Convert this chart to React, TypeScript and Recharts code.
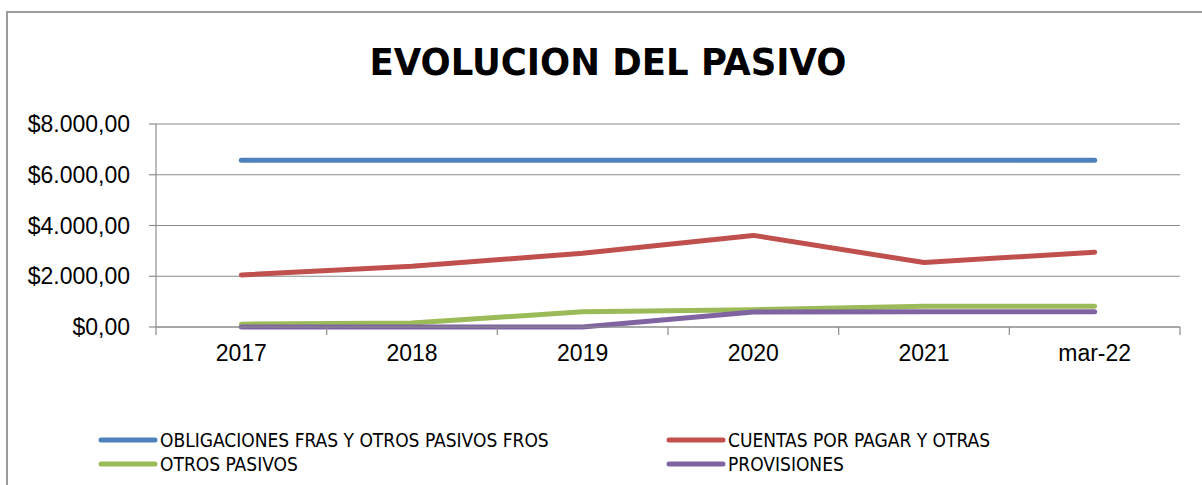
import React from "react";
import {
  LineChart,
  Line,
  XAxis,
  YAxis,
  CartesianGrid,
} from "recharts";

const periods = ["2017", "2018", "2019", "2020", "2021", "mar-22"];
const obligaciones = [6570, 6570, 6570, 6570, 6570, 6570];
const cuentasPorPagar = [2050, 2390, 2910, 3610, 2540, 2950];
const otrosPasivos = [110, 160, 600, 680, 820, 815];
const provisiones = [0, 0, 0, 590, 600, 600];
const yTicks = [0, 2000, 4000, 6000, 8000];

const series = [
  { key: "obligaciones", name: "OBLIGACIONES FRAS Y OTROS PASIVOS FROS", color: "#4F81BD" },
  { key: "cuentas", name: "CUENTAS POR PAGAR Y OTRAS", color: "#C0504D" },
  { key: "otros", name: "OTROS PASIVOS", color: "#9BBB59" },
  { key: "provisiones", name: "PROVISIONES", color: "#8064A2" },
];

const chartData = periods.map((period, i) => ({
  period,
  obligaciones: obligaciones[i],
  cuentas: cuentasPorPagar[i],
  otros: otrosPasivos[i],
  provisiones: provisiones[i],
}));

const formatMoney = (v: number) =>
  "$" + v.toLocaleString("de-DE", { minimumFractionDigits: 2, maximumFractionDigits: 2 });

const AXIS_GRAY = "#8c8c8c";
const CHART_W = 1202;
const Y_AXIS_W = 156;
const RIGHT_MARGIN = 22;
const BAND = (CHART_W - Y_AXIS_W - RIGHT_MARGIN) / periods.length;
const TICK_FONT = "'Liberation Sans', Arial, sans-serif";

// category label plus Excel-style tick marks between categories
const CategoryTick = (props: any) => {
  const { x, y, payload, index } = props;
  const last = index === periods.length - 1;
  return (
    <g>
      <line x1={x - BAND / 2} y1={y} x2={x - BAND / 2} y2={y + 8} stroke={AXIS_GRAY} strokeWidth={1.2} />
      {last && (
        <line x1={x + BAND / 2} y1={y} x2={x + BAND / 2} y2={y + 8} stroke={AXIS_GRAY} strokeWidth={1.2} />
      )}
      <text x={x} y={y + 18} dy="0.71em" textAnchor="middle" fontSize={23} fill="#000" fontFamily={TICK_FONT}>
        {payload.value}
      </text>
    </g>
  );
};

const LegendBox = () => (
  <div
    style={{
      display: "grid",
      gridTemplateColumns: "568px 400px",
      rowGap: 2,
      fontFamily: "'Liberation Sans Narrow', 'DejaVu Sans Condensed', sans-serif",
      fontSize: 19,
      color: "#000",
    }}
  >
    {series.map((s) => (
      <div key={s.key} style={{ display: "flex", alignItems: "center", height: 22 }}>
        <svg width={60} height={8} style={{ marginRight: 2 }}>
          <line x1={3} y1={4} x2={57} y2={4} stroke={s.color} strokeWidth={5} strokeLinecap="round" />
        </svg>
        <span>{s.name}</span>
      </div>
    ))}
  </div>
);

export default function App() {
  return (
    <div style={{ position: "absolute", left: 0, top: 0, width: 1202, height: 485, background: "#fff", overflow: "hidden" }}>
      {/* chart frame */}
      <div
        style={{
          position: "absolute",
          left: 6,
          top: 11,
          width: 1230,
          height: 520,
          border: "2px solid #9c9c9c",
        }}
      />
      {/* title */}
      <svg width={1202} height={100} style={{ position: "absolute", left: 0, top: 0 }}>
        <text
          x={608}
          y={75}
          textAnchor="middle"
          fontFamily="'Liberation Sans Narrow', 'DejaVu Sans Condensed', sans-serif"
          fontWeight="bold"
          fontSize={38}
          textLength={477}
          lengthAdjust="spacingAndGlyphs"
          fill="#000"
        >
          EVOLUCION DEL PASIVO
        </text>
      </svg>
      <div style={{ position: "absolute", left: 0, top: 0 }}>
        <LineChart
          width={CHART_W}
          height={485}
          data={chartData}
          margin={{ top: 124, right: RIGHT_MARGIN, left: 0, bottom: 100 }}
        >
          {/* Grid */}
          <CartesianGrid vertical={false} stroke={AXIS_GRAY} strokeWidth={1.2} />

          {/* X axis */}
          <XAxis
            dataKey="period"
            height={58}
            axisLine={{ stroke: AXIS_GRAY, strokeWidth: 1.2 }}
            tickLine={false}
            tickSize={0}
            tickMargin={0}
            padding={{ left: BAND / 2, right: BAND / 2 }}
            interval={0}
            tick={CategoryTick}
          />

          {/* Y axis */}
          <YAxis
            domain={[0, 8000]}
            ticks={yTicks}
            width={Y_AXIS_W}
            tickSize={7}
            tickMargin={19}
            axisLine={{ stroke: AXIS_GRAY, strokeWidth: 1.2 }}
            tickLine={{ stroke: AXIS_GRAY, strokeWidth: 1.2 }}
            tickFormatter={formatMoney}
            tick={{ fontSize: 23, fill: "#000", fontFamily: TICK_FONT }}
          />

          {/* Lines */}
          {series.map((s) => (
            <Line
              key={s.key}
              type="linear"
              dataKey={s.key}
              name={s.name}
              stroke={s.color}
              strokeWidth={5}
              strokeLinecap="round"
              strokeLinejoin="round"
              dot={false}
              activeDot={false}
              isAnimationActive={false}
            />
          ))}
        </LineChart>
      </div>
      {/* legend */}
      <div style={{ position: "absolute", left: 98, top: 429 }}>
        <LegendBox />
      </div>
    </div>
  );
}
